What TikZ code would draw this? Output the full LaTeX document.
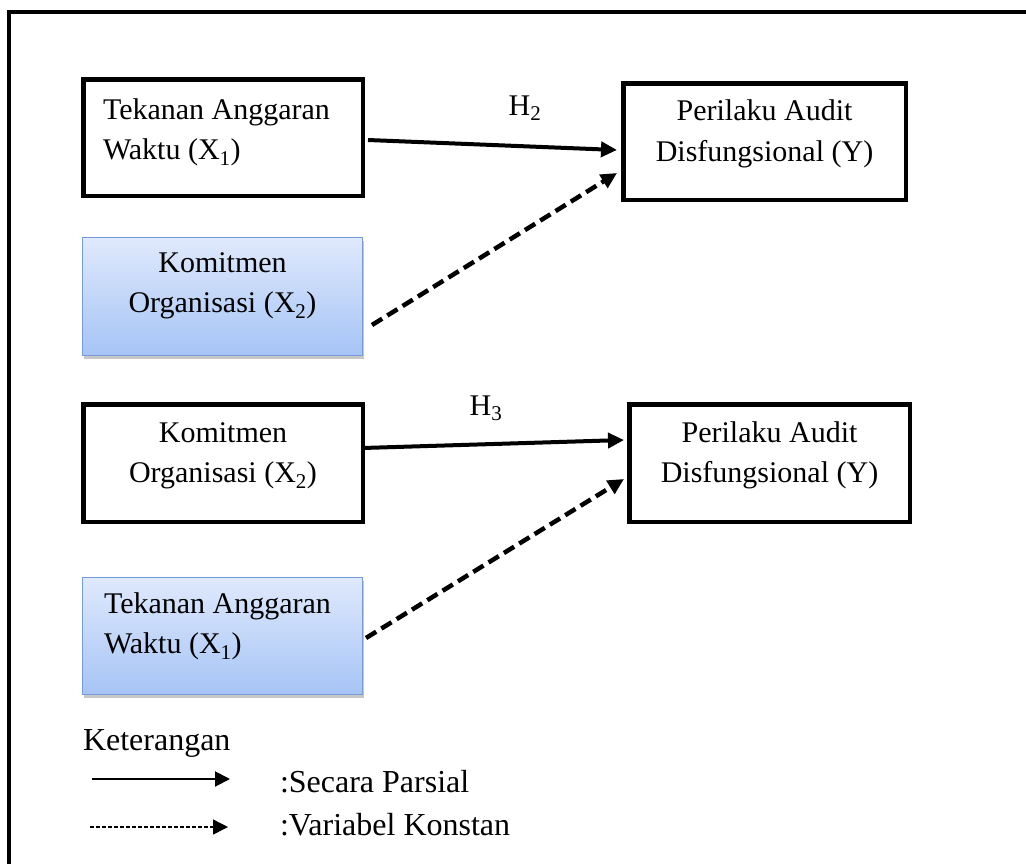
\documentclass[tikz,border=0pt]{standalone}
\usepackage{fontspec}
\setmainfont{Liberation Serif}
\usetikzlibrary{arrows.meta,shadows}
\definecolor{bluetop}{RGB}{223,233,252}
\definecolor{bluebot}{RGB}{166,196,246}
\definecolor{blueborder}{RGB}{118,155,214}
\begin{document}
\begin{tikzpicture}[x=1pt,y=-1pt,
  every node/.style={inner sep=0pt, outer sep=0pt},
  boxw/.style={draw=black, line width=4.5pt, fill=white},
  boxb/.style={draw=blueborder, line width=1.3pt, top color=bluetop, bottom color=bluebot,
    drop shadow={shadow xshift=1.5pt, shadow yshift=-3.5pt, opacity=0.22, fill=black}},
  txtc/.style={font=\fontsize{30}{40.5}\selectfont, align=center},
  txtl/.style={font=\fontsize{30}{40.5}\selectfont, align=left},
  legtxt/.style={font=\fontsize{32}{39}\selectfont},
  parr/.style={line width=4pt, -{Triangle[length=16pt,width=15pt]}},
  darr/.style={line width=4.5pt, dash pattern=on 12pt off 6pt, -{Triangle[length=16pt,width=15pt]}},
  legsolid/.style={line width=2pt, -{Triangle[length=15pt,width=15pt]}},
  legdash/.style={line width=1.5pt, dash pattern=on 4pt off 2pt, -{Triangle[length=15pt,width=15pt]}}
]
\clip (0,0) rectangle (1026,863);
\fill[white] (0,0) rectangle (1026,863);
% outer frame (only left and top visible)
\draw[line width=4pt] (9,1000) -- (9,12) -- (1200,12);

% section 1
\node[boxw, minimum width=279.5pt, minimum height=116.5pt] (a1) at (223,137.5) {};
\node[boxw, minimum width=282.5pt, minimum height=116.5pt] (b1) at (764.5,141.5) {};
\node[boxb, minimum width=279.7pt, minimum height=117.7pt] (c1) at (222.5,296.5) {};
\node[txtl, anchor=north west] (a1t) at (103,98.5) {Tekanan Anggaran\\Waktu (X\textsubscript{1})};
\node[txtc, anchor=north] (b1t) at (764.5,100) {Perilaku Audit\\Disfungsional (Y)};
\node[txtc, anchor=north] (c1t) at (222.5,252.5) {Komitmen\\Organisasi (X\textsubscript{2})};
\node[txtc, anchor=base] (h2) at (525,115) {H\textsubscript{2}};
\draw[parr] ([xshift=5.25pt,yshift=-2.5pt]a1.east) -- ([xshift=-6.25pt,yshift=-8.5pt]b1.west);
\draw[darr] ([xshift=9.65pt,yshift=-28.5pt]c1.east) -- ([xshift=-6.25pt,yshift=-31.5pt]b1.west);

% section 2
\node[boxw, minimum width=279.5pt, minimum height=117.5pt] (a2) at (223,463) {};
\node[boxw, minimum width=280.5pt, minimum height=117.5pt] (b2) at (769.5,463) {};
\node[boxb, minimum width=279.7pt, minimum height=116.7pt] (c2) at (222.5,636) {};
\node[txtc, anchor=north] (a2t) at (223,422.5) {Komitmen\\Organisasi (X\textsubscript{2})};
\node[txtc, anchor=north] (b2t) at (769.5,421.5) {Perilaku Audit\\Disfungsional (Y)};
\node[txtl, anchor=north west] (c2t) at (104,592.5) {Tekanan Anggaran\\Waktu (X\textsubscript{1})};
\node[txtc, anchor=base] (h3) at (486,415) {H\textsubscript{3}};
\draw[parr] ([yshift=15pt]a2.east) -- ([xshift=-5.25pt,yshift=23pt]b2.west);
\draw[darr] ([xshift=3.65pt,yshift=-2pt]c2.east) -- ([xshift=-5.25pt,yshift=-16pt]b2.west);

% legend
\node[legtxt, anchor=base west] (ket) at (83,750) {Keterangan};
\coordinate (l1s) at (92,779);
\coordinate (l1e) at (230,779);
\coordinate (l2s) at (90,827);
\coordinate (l2e) at (228,827);
\draw[legsolid] (l1s) -- (l1e);
\draw[legdash] (l2s) -- (l2e);
\node[legtxt, anchor=base west] (lt1) at (280,792) {:Secara Parsial};
\node[legtxt, anchor=base west] (lt2) at (280,835) {:Variabel Konstan};
\end{tikzpicture}
\end{document}
